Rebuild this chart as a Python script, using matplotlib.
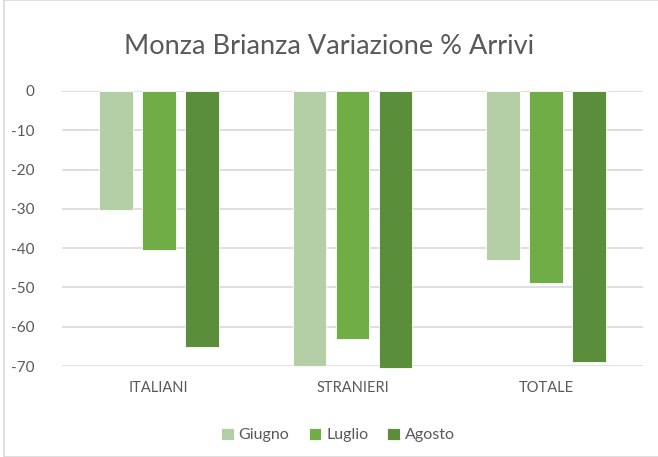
import numpy as np
import matplotlib
matplotlib.use("Agg")
from matplotlib import pyplot as plt
from matplotlib.patches import Rectangle

# data
categories = ["ITALIANI", "STRANIERI", "TOTALE"]
series = ["Giugno", "Luglio", "Agosto"]
giugno = [-30.3, -70.0, -43.0]
luglio = [-40.5, -63.2, -48.9]
agosto = [-65.1, -70.6, -68.9]
yticks = [0, -10, -20, -30, -40, -50, -60, -70]

colors = ["#B4CEA6", "#70AD47", "#5B8E3A"]
text_col = "#595959"

plt.rcParams['font.family'] = ['Lato', 'DejaVu Sans']

fig = plt.figure(figsize=(6.58, 4.57), dpi=100)
W, H = 658, 457
ax = fig.add_axes([62 / W, 1 - 366 / H, (643 - 62) / W, (366 - 91) / H])

x = np.arange(len(categories))
bw = 0.175
step = 0.222
for i, (vals, name) in enumerate(zip([giugno, luglio, agosto], series)):
    ax.bar(x + (i - 1) * step, vals, width=bw, color=colors[i], label=name,
           edgecolor="white", linewidth=0.6, zorder=3, clip_on=False)

ax.set_xlim(-0.5, len(categories) - 0.5)
ax.set_ylim(-70, 0)
ax.set_yticks(yticks)
ax.set_yticklabels([str(v) for v in yticks], color=text_col, fontsize=11)
ax.set_xticks(x)
ax.set_xticklabels(categories, color=text_col, fontsize=10.5)
ax.tick_params(length=0)
ax.tick_params(axis='y', pad=20)
ax.tick_params(axis='x', pad=11)
for s in ax.spines.values():
    s.set_visible(False)
ax.yaxis.grid(True, color="#D9D9D9", linewidth=1.2, zorder=0)
ax.set_axisbelow(True)
ax.patch.set_alpha(0)

fig.text(0.5, 1 - 47 / H, "Monza Brianza Variazione % Arrivi", ha="center",
         va="center", fontsize=19.5, color=text_col)

fig.legend(loc="center", bbox_to_anchor=(338 / W, 1 - 435 / H), ncol=3,
           frameon=False, fontsize=11.5, handlelength=0.8, handleheight=0.8,
           handletextpad=0.3, columnspacing=1.2, labelcolor=text_col)

# chart frame
fig.patches.append(Rectangle((4 / W, 0), 1, 1, transform=fig.transFigure,
                             fill=False, edgecolor="#D9D9D9", linewidth=1.2))

fig.savefig("out.png", dpi=100)
